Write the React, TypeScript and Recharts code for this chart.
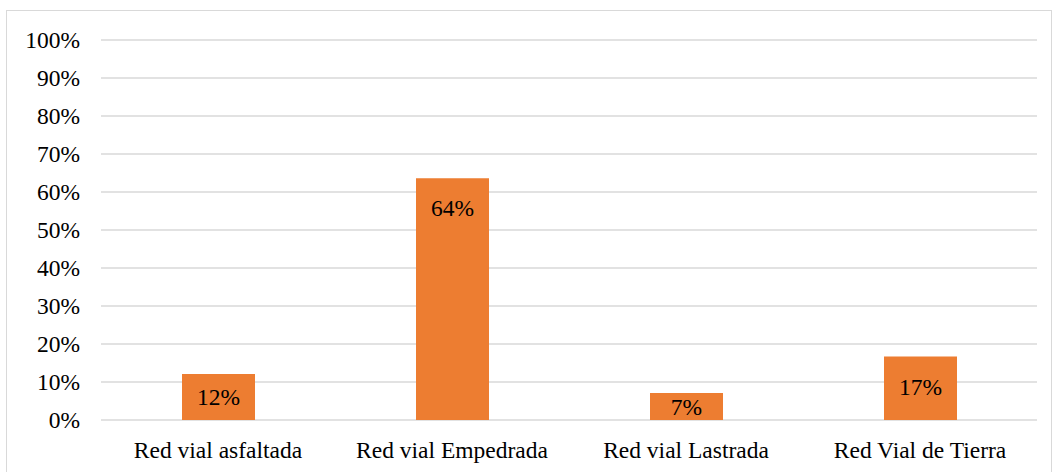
import { BarChart, Bar, XAxis, YAxis, CartesianGrid, LabelList } from "recharts";

const categories = [
  "Red vial asfaltada",
  "Red vial Empedrada",
  "Red vial Lastrada",
  "Red Vial de Tierra",
];
const shares = [0.121, 0.636, 0.071, 0.167];
const yTicks = [0, 0.1, 0.2, 0.3, 0.4, 0.5, 0.6, 0.7, 0.8, 0.9, 1];

const data = categories.map((name, i) => ({ name, value: shares[i] }));

const FONT = "Liberation Serif";
const FS = 23.5;
const pct = (v: number) => `${Math.round(v * 100)}%`;

// Excel-like inside-end label: near the top, but centred for short bars
function BarLabel(props: any) {
  const { x, y, width, height, value } = props;
  const cy = Math.min(y + 30, y + height / 2);
  return (
    <text
      x={x + width / 2}
      y={cy}
      textAnchor="middle"
      dominantBaseline="central"
      style={{ fontFamily: FONT, fontSize: FS }}
      fill="#000"
    >
      {pct(value)}
    </text>
  );
}

export default function App() {
  return (
    <div
      style={{
        position: "absolute",
        left: 0,
        top: 0,
        width: 1055,
        height: 472,
        fontFamily: FONT,
      }}
    >
      <div
        style={{
          position: "absolute",
          left: 6,
          top: 10,
          width: 1046,
          height: 470,
          border: "1.5px solid #d9d9d9",
          boxSizing: "border-box",
        }}
      />
      <div style={{ position: "absolute", left: 0, top: 0 }}>
        <BarChart
          width={1055}
          height={472}
          data={data}
          margin={{ top: 40, right: 18, left: 0, bottom: 0 }}
          style={{ fontFamily: FONT }}
        >
          <CartesianGrid vertical={false} stroke="#d9d9d9" strokeWidth={1.5} />
          <XAxis
            dataKey="name"
            axisLine={false}
            tickLine={false}
            tickSize={0}
            tickMargin={21}
            height={52}
            interval={0}
            tick={{ fontSize: FS, fill: "#000", style: { fontFamily: FONT } }}
          />
          <YAxis
            domain={[0, 1]}
            ticks={yTicks}
            tickFormatter={pct}
            axisLine={false}
            tickLine={false}
            tickSize={0}
            tickMargin={21}
            width={101}
            tick={{ fontSize: FS, fill: "#000", style: { fontFamily: FONT } }}
          />
          <Bar dataKey="value" fill="#ED7D31" barSize={73} isAnimationActive={false}>
            <LabelList dataKey="value" content={<BarLabel />} />
          </Bar>
        </BarChart>
      </div>
    </div>
  );
}
